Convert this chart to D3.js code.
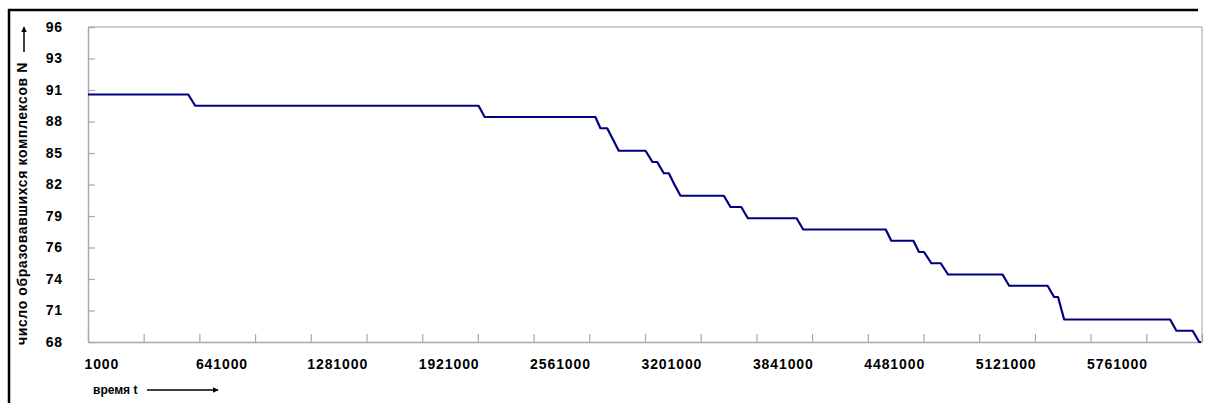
<!DOCTYPE html>
<html>
<head>
<meta charset="utf-8">
<script src="https://cdn.jsdelivr.net/npm/d3@7"></script>
<style>
  body { margin: 0; background: #fff; }
  svg { display: block; }
  text { font-family: "Liberation Sans", Arial, sans-serif; fill: #000; }
</style>
</head>
<body>
<div id="chart"></div>
<script>
// time points (t) and number of complexes (N) at each point
var timeT = [1000, 577000, 617000, 2245000, 2280000, 2916000, 2945000, 2984000, 3017000,
  3050000, 3204000, 3244000, 3271000, 3309000, 3338000, 3370000, 3405000, 3654000,
  3692000, 3754000, 3792000, 4072000, 4110000, 4584000, 4616000, 4743000, 4775000,
  4804000, 4846000, 4900000, 4942000, 5255000, 5293000, 5514000, 5551000, 5574000,
  5609000, 6218000, 6254000, 6347000, 6385000, 6395000];
var countN = [90, 90, 89, 89, 88, 88, 87, 87, 86,
  85, 85, 84, 84, 83, 83, 82, 81, 81,
  80, 80, 79, 79, 78, 78, 77, 77, 76,
  76, 75, 75, 74, 74, 73, 73, 72, 72,
  70, 70, 69, 69, 68, 68];

var yTickLabels = ["68", "71", "74", "76", "79", "82", "85", "88", "91", "93", "96"];
var xTickLabels = ["1000", "641000", "1281000", "1921000", "2561000", "3201000",
  "3841000", "4481000", "5121000", "5761000"];

var yTitle = "число образовавшихся комплексов N";
var xTitle = "время t";

var W = 1208, H = 403;
var plotL = 88, plotT = 27, plotR = 1202, plotB = 342;

var svg = d3.select("#chart").append("svg")
  .attr("width", W)
  .attr("height", H);

/* outer frame (only top and left are visible) */
svg.append("line")
  .attr("x1", 8).attr("x2", 1198).attr("y1", 10).attr("y2", 10)
  .attr("stroke", "#000").attr("stroke-width", 2.5);
svg.append("line")
  .attr("x1", 9).attr("x2", 9).attr("y1", 9).attr("y2", H)
  .attr("stroke", "#000").attr("stroke-width", 2.5);

/* scales */
var xScale = d3.scaleLinear()
  .domain([1000, 6401000])
  .range([plotL, plotR]);

var yScale = d3.scaleLinear()
  .domain([68, 96])
  .range([plotB, plotT]);

/* plot border (top and right) */
svg.append("path")
  .attr("d", `M${plotL},${plotT}H${plotR}V${plotB}`)
  .attr("fill", "none")
  .attr("stroke", "#c0c0c0")
  .attr("stroke-width", 1.5);

/* axes */
var yTicks = d3.range(yTickLabels.length).map(i => 68 + i * 2.8);
var yAxis = d3.axisLeft(yScale)
  .tickValues(yTicks)
  .tickSizeInner(-7)
  .tickSizeOuter(0)
  .tickPadding(25)
  .tickFormat((d, i) => yTickLabels[i]);

var xTicks = d3.range(21).map(i => 1000 + i * 320000);
var xAxis = d3.axisBottom(xScale)
  .tickValues(xTicks)
  .tickSizeInner(-8)
  .tickSizeOuter(0)
  .tickPadding(17)
  .tickFormat((d, i) => i % 2 === 0 ? xTickLabels[i / 2] : "");

var gy = svg.append("g")
  .attr("transform", `translate(${plotL},0)`)
  .call(yAxis);

var gx = svg.append("g")
  .attr("transform", `translate(0,${plotB})`)
  .call(xAxis);

[gx, gy].forEach(function(g) {
  g.select(".domain").attr("stroke", "#a8a8a8").attr("stroke-width", 1.5);
  g.selectAll(".tick line").attr("stroke", "#a8a8a8").attr("stroke-width", 1.2);
  g.selectAll(".tick text")
    .style("font-family", "'Liberation Sans', Arial, sans-serif")
    .style("font-size", "14px")
    .style("font-weight", "bold")
    .style("letter-spacing", "0.9px")
    .attr("fill", "#000");
});
gx.selectAll(".tick text")
  .attr("text-anchor", "start")
  .attr("dx", -4);

/* step line */
var data = timeT.map((t, i) => ({t: t, n: countN[i]}));
var line = d3.line()
  .x(d => xScale(d.t))
  .y(d => yScale(d.n));

svg.append("path")
  .datum(data)
  .attr("d", line)
  .attr("fill", "none")
  .attr("stroke", "#000080")
  .attr("stroke-width", 2.2)
  .attr("stroke-linejoin", "round");

/* arrow marker */
svg.append("defs").append("marker")
  .attr("id", "arr")
  .attr("viewBox", "0 0 10 10")
  .attr("refX", 9).attr("refY", 5)
  .attr("markerWidth", 6).attr("markerHeight", 6)
  .attr("markerUnits", "userSpaceOnUse")
  .attr("orient", "auto")
  .append("path")
  .attr("d", "M0,0L10,5L0,10Z")
  .attr("fill", "#000");

/* y title */
svg.append("text")
  .attr("transform", "translate(27,345) rotate(-90)")
  .attr("text-anchor", "start")
  .style("font-size", "14px")
  .style("font-weight", "bold")
  .style("letter-spacing", "0.6px")
  .text(yTitle);
svg.append("line")
  .attr("x1", 24).attr("x2", 24).attr("y1", 52).attr("y2", 27)
  .attr("stroke", "#000").attr("stroke-width", 1.5)
  .attr("marker-end", "url(#arr)");

/* x title */
svg.append("text")
  .attr("x", 93)
  .attr("y", 394)
  .style("font-size", "12px")
  .style("font-weight", "bold")
  .text(xTitle);
svg.append("line")
  .attr("x1", 147).attr("x2", 218).attr("y1", 390).attr("y2", 390)
  .attr("stroke", "#000").attr("stroke-width", 1.5)
  .attr("marker-end", "url(#arr)");
</script>
</body>
</html>
